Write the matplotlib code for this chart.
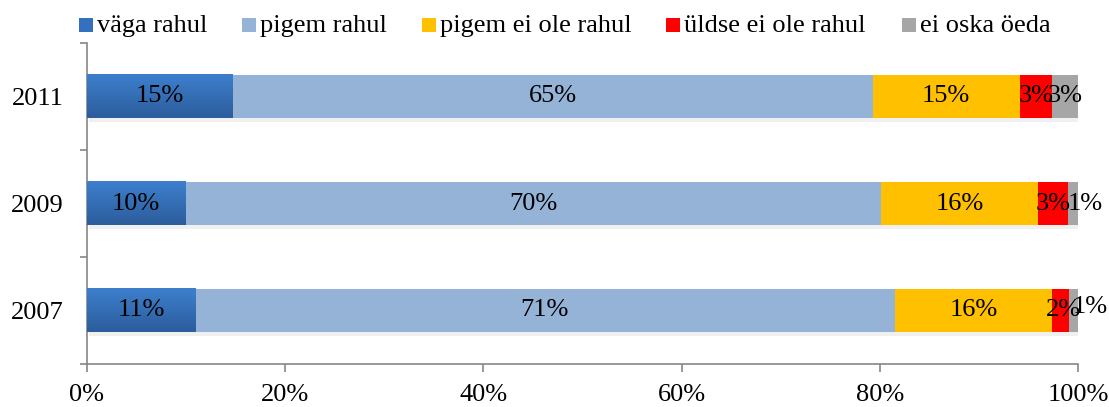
import matplotlib
matplotlib.use("Agg")
import matplotlib.pyplot as plt
import numpy as np
from matplotlib.patches import Rectangle

plt.rcParams['font.family'] = ['Liberation Serif', 'DejaVu Serif']

years = ["2007", "2009", "2011"]
series = ["väga rahul", "pigem rahul", "pigem ei ole rahul", "üldse ei ole rahul", "ei oska öeda"]
vaga_rahul = [10.9, 9.9, 14.7]
pigem_rahul = [70.6, 70.2, 64.6]
pigem_ei_ole = [15.9, 15.9, 14.8]
uldse_ei_ole = [1.7, 3.0, 3.3]
ei_oska = [0.9, 1.0, 2.6]
labels = [
    ["11%", "10%", "15%"],
    ["71%", "70%", "65%"],
    ["16%", "16%", "15%"],
    ["2%", "3%", "3%"],
    ["1%", "1%", "3%"],
]
xticks = [0, 20, 40, 60, 80, 100]

colors = ["#3470bd", "#95b3d7", "#ffc000", "#ff0000", "#a6a6a6"]
data = np.array([vaga_rahul, pigem_rahul, pigem_ei_ole, uldse_ei_ole, ei_oska])
FS = 19
W, H = 1109, 407

fig = plt.figure(figsize=(W / 100, H / 100), dpi=100)
ax = fig.add_axes([87 / W, 1 - 364 / H, (1078 - 87) / W, (364 - 43) / H])

y = np.arange(len(years))
h = 0.41
left = np.zeros(len(years))
for i, name in enumerate(series):
    # soft shadow under each segment
    ax.barh(y - 0.035, data[i], height=h, left=left + 0.25, color="#000000", alpha=0.06, zorder=1)
    bars = ax.barh(y, data[i], height=h, left=left, color=colors[i], label=name, zorder=2)
    if i == 0:
        grad = np.linspace(0, 1, 50).reshape(-1, 1)
        cmap = matplotlib.colors.LinearSegmentedColormap.from_list("g", ["#2c5d9c", "#3d7fcd"])
        for b in bars:
            x0, y0, w, hh = b.get_x(), b.get_y(), b.get_width(), b.get_height()
            ax.imshow(grad, extent=(x0, x0 + w, y0, y0 + hh), aspect="auto", cmap=cmap,
                      origin="lower", zorder=3)
    for j in range(len(years)):
        cx = left[j] + data[i][j] / 2
        cy = y[j]
        dx, dy = 0, 0
        if i == 4 and j == 1:
            dx = 1.2
        if i == 4 and j == 0:
            dx = 1.7
            dy = 0.03
        if i == 3 and j == 0:
            dx = 0.3
        ax.text(cx + dx, cy + dy, labels[i][j], ha="center", va="center", fontsize=FS, zorder=5)
    left = left + data[i]

ax.set_xlim(0, 100)
ax.set_ylim(-0.5, 2.5)
ax.set_xticks(xticks)
ax.set_xticklabels([f"{t}%" for t in xticks], fontsize=FS)
ax.set_yticks(y)
ax.set_yticklabels(years, fontsize=FS)
ax.set_yticks([-0.5, 0.5, 1.5, 2.5], minor=True)
ax.tick_params(axis="y", which="major", length=0, pad=16.5)
ax.tick_params(axis="y", which="minor", length=5, color="#868686", width=1.2)
ax.tick_params(axis="x", length=5.8, color="#868686", width=1.2, pad=8.5)
for s in ["top", "right"]:
    ax.spines[s].set_visible(False)
for s in ["left", "bottom"]:
    ax.spines[s].set_color("#868686")
    ax.spines[s].set_linewidth(1.2)

# legend laid out like the original (uneven slots)
leg_x = [79, 242, 422, 666, 902]
sq = 14
for lx, c, name in zip(leg_x, colors, series):
    fig.patches.append(Rectangle((lx / W, 1 - 32 / H), sq / W, sq / H, transform=fig.transFigure,
                                 facecolor=c, edgecolor="none"))
    fig.text((lx + sq + 4) / W, 1 - 26 / H, name, fontsize=FS, ha="left", va="center")

fig.savefig("out.png", dpi=100)
